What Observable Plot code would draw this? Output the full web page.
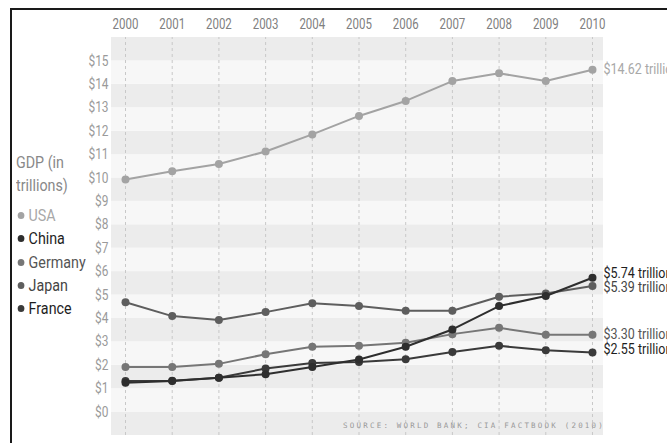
<!DOCTYPE html>
<html>
<head>
<meta charset="utf-8">
<script src="https://cdn.jsdelivr.net/npm/d3@7"></script>
<script src="https://cdn.jsdelivr.net/npm/@observablehq/plot@0.6"></script>
<style>
  html, body { margin: 0; padding: 0; background: #fff; }
  #wrap { position: relative; width: 667px; height: 443px; overflow: hidden; font-family: Roboto, "Noto Sans", sans-serif; }
  #frame { position: absolute; left: 10px; top: 8px; right: -10px; bottom: -10px; border-left: 2px solid #1a1a1a; border-top: 2px solid #1a1a1a; pointer-events: none; }
  #legend { position: absolute; left: 16px; top: 151px; font-size: 17px; line-height: 23.4px; transform: scaleX(0.84); transform-origin: 0 0; }
  #legend .title { color: #888; }
  #legend .item { white-space: nowrap; }
  #legend .dot { display: inline-block; width: 8px; height: 7px; border-radius: 50%; margin: 0 5px 2px 2px; vertical-align: middle; }
  #source { position: absolute; right: 64px; top: 421px; font-family: "DejaVu Sans Mono", monospace; font-size: 7.5px; letter-spacing: 2.2px; color: #999; margin-right: -2px; }
  #chart { position: absolute; left: 0; top: 0; }
</style>
</head>
<body>
<div id="wrap">
  <div id="chart"></div>
  <div id="legend"></div>
  <div id="source"></div>
  <div id="frame"></div>
</div>
<script>
// ---- data ----
const years = [2000, 2001, 2002, 2003, 2004, 2005, 2006, 2007, 2008, 2009, 2010];
const countries = ["USA", "China", "Germany", "Japan", "France"];
const usa     = [9.93, 10.29, 10.60, 11.13, 11.86, 12.65, 13.29, 14.14, 14.47, 14.14, 14.62];
const china   = [1.25, 1.33, 1.47, 1.62, 1.93, 2.25, 2.79, 3.53, 4.53, 4.96, 5.74];
const germany = [1.93, 1.93, 2.06, 2.47, 2.79, 2.83, 2.96, 3.33, 3.60, 3.30, 3.30];
const japan   = [4.69, 4.10, 3.93, 4.27, 4.65, 4.53, 4.33, 4.33, 4.93, 5.07, 5.39];
const france  = [1.33, 1.34, 1.47, 1.86, 2.10, 2.14, 2.26, 2.57, 2.83, 2.64, 2.55];
const yTicks  = [0, 1, 2, 3, 4, 5, 6, 7, 8, 9, 10, 11, 12, 13, 14, 15];
const sourceText = "SOURCE: WORLD BANK; CIA FACTBOOK (2010)";

// ---- styling ----
const lineColors = {USA: "#a3a3a3", China: "#2e2e2e", Germany: "#767676", Japan: "#5e5e5e", France: "#3a3a3a"};
const textColors = {USA: "#a8a8a8", China: "#1e1e1e", Germany: "#555", Japan: "#444", France: "#1e1e1e"};
const labelDy = {USA: 0, China: -4, Germany: 0, Japan: 1, France: -3};
const squeeze = 0.82;
const labelSqueeze = 0.86;

const seriesValues = {USA: usa, China: china, Germany: germany, Japan: japan, France: france};
const rows = [];
for (const c of countries) seriesValues[c].forEach((v, i) => rows.push({country: c, year: years[i], value: v}));
const last = rows.filter(d => d.year === years[years.length - 1]);

// alternating background bands (one unit tall each)
const bands = d3.range(-1, 16).map(b => ({y1: b, y2: b + 1, dark: (b + 1) % 2 === 0}));

const drawOrder = ["USA", "Germany", "Japan", "France", "China"];

const marks = [
  Plot.rectY(bands, {x1: 1999.7, x2: 2010.236, y1: "y1", y2: "y2", fill: d => d.dark ? "#ececec" : "#f7f7f7"}),
  Plot.ruleX(years, {x: d => d, y1: -1, y2: 16, stroke: "#c8c8c8", strokeDasharray: "3,3", strokeWidth: 1}),
  Plot.axisX({anchor: "top", ticks: years, tickSize: 0, tickPadding: 9, tickFormat: d => String(d), fontSize: 14, fill: "#808080", label: null}),
  Plot.axisY({anchor: "left", ticks: yTicks, tickSize: 0, tickPadding: 3, tickFormat: d => "$" + d, fontSize: 14.5, fill: "#9a9a9a", label: null})
];
for (const c of drawOrder) {
  const data = rows.filter(d => d.country === c);
  marks.push(Plot.line(data, {x: "year", y: "value", stroke: lineColors[c], strokeWidth: 2}));
  marks.push(Plot.dot(data, {x: "year", y: "value", fill: lineColors[c], r: 4}));
}
for (const d of last) {
  marks.push(Plot.text([d], {
    x: "year", y: "value", text: e => "$" + e.value.toFixed(2) + " trillion",
    textAnchor: "start", dx: 11, dy: labelDy[d.country], fontSize: 14.5,
    fill: textColors[d.country], className: "endlabel"
  }));
}

const chart = Plot.plot({
  width: 667,
  height: 443,
  marginTop: 37,
  marginBottom: 8,
  marginLeft: 111,
  marginRight: 64,
  x: {domain: [1999.7, 2010.236], label: null},
  y: {domain: [-1, 16], label: null},
  style: {fontFamily: 'Roboto, "Noto Sans", sans-serif', background: "transparent", overflow: "visible"},
  marks
});
document.getElementById("chart").appendChild(chart);

// condense all SVG texts horizontally (narrow typeface look)
chart.querySelectorAll("text").forEach(t => {
  const L = t.getComputedTextLength();
  const s = t.closest(".endlabel") ? labelSqueeze : squeeze;
  if (L > 0) {
    t.setAttribute("textLength", (L * s).toFixed(2));
    t.setAttribute("lengthAdjust", "spacingAndGlyphs");
  }
});

// legend
const leg = document.getElementById("legend");
const title = document.createElement("div");
title.className = "title";
title.innerHTML = "GDP (in<br>trillions)";
title.style.marginBottom = "6px";
leg.appendChild(title);
for (const c of countries) {
  const it = document.createElement("div");
  it.className = "item";
  it.style.color = textColors[c];
  const dot = document.createElement("span");
  dot.className = "dot";
  dot.style.background = lineColors[c];
  it.appendChild(dot);
  it.appendChild(document.createTextNode(c));
  leg.appendChild(it);
}
document.getElementById("source").textContent = sourceText;
</script>
</body>
</html>
